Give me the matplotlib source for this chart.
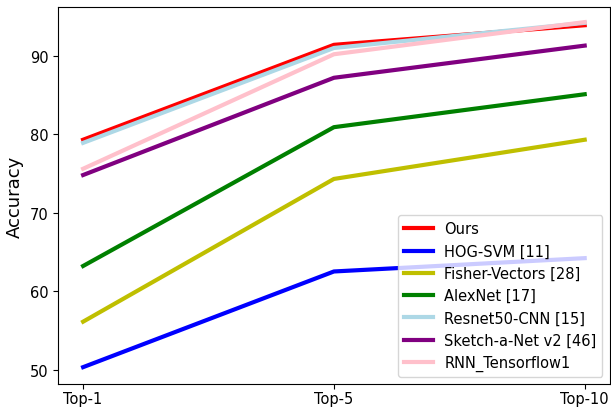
import matplotlib.pyplot as plt

# x categories
ranks = ["Top-1", "Top-5", "Top-10"]

# accuracy per method
ours = [79.3, 91.4, 93.9]
hog_svm = [50.3, 62.5, 64.2]
fisher = [56.1, 74.3, 79.3]
alexnet = [63.2, 80.9, 85.1]
resnet50 = [78.9, 91.0, 94.2]
sketch_a_net = [74.8, 87.2, 91.3]
rnn_tf = [75.6, 90.2, 94.3]

labels = ["Ours", "HOG-SVM [11]", "Fisher-Vectors [28]", "AlexNet [17]",
          "Resnet50-CNN [15]", "Sketch-a-Net v2 [46]", "RNN_Tensorflow1"]
colors = ["red", "blue", "y", "green", "lightblue", "purple", "pink"]
series = [ours, hog_svm, fisher, alexnet, resnet50, sketch_a_net, rnn_tf]

fig, ax = plt.subplots(figsize=(6.11, 4.1), dpi=100)
for vals, lab, c in zip(series, labels, colors):
    ax.plot(ranks, vals, color=c, linewidth=3, label=lab)

ax.set_ylabel("Accuracy", fontsize=13)
ax.set_ylim(48.1, 96.2)
ax.set_yticks([50, 60, 70, 80, 90])
ax.tick_params(labelsize=10.5)
ax.tick_params(axis="x", pad=1.5)
ax.legend(loc="lower right", fontsize=10.5)

plt.subplots_adjust(left=0.095, right=0.998, top=0.98, bottom=0.06)
plt.savefig("out.png")
